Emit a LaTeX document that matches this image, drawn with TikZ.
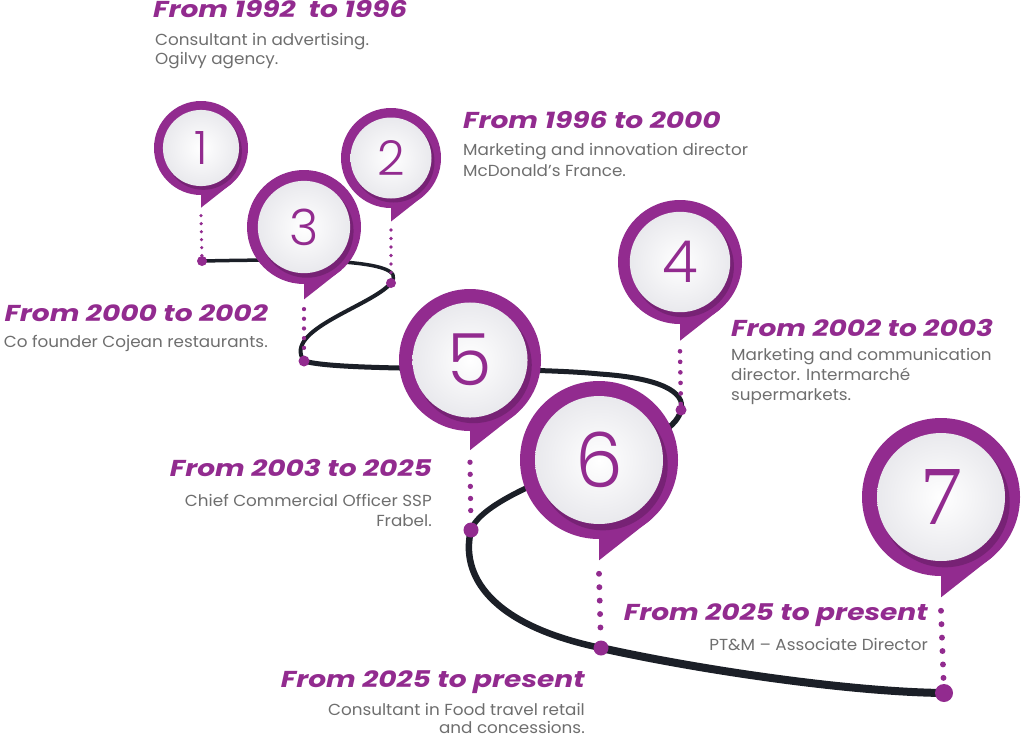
\documentclass[tikz,border=0pt]{standalone}
\usepackage{fontspec}
\setmainfont{Poppins}
\newfontfamily\headfont[FakeStretch=1.22]{Poppins}
\newfontfamily\bodyfont[FakeStretch=1.05]{Poppins}
\newfontfamily\numfont{Poppins Light}
\newfontfamily\sevenfont{Liberation Serif}
\definecolor{pp}{HTML}{922B8F}
\definecolor{ppdark}{HTML}{5E1A5C}
\definecolor{txtgray}{HTML}{6E6E6E}
\definecolor{curvecol}{HTML}{1B1F27}
\definecolor{diskgray}{HTML}{E9E9ED}
\tikzset{
  head/.style={font=\headfont\fontsize{23}{26}\selectfont\bfseries\itshape, text=pp, inner sep=0},
  body/.style={font=\bodyfont\fontsize{16}{18}\selectfont, text=txtgray, inner sep=0},
  enddot/.style={circle, fill=pp, inner sep=0},
  curveline/.style={draw=curvecol, line cap=round},
}
% #1 name, #2 cx, #3 cy, #4 r, #5 label, #6 font
\newcommand{\drawpin}[6]{%
  \fill[pp] ({#2},{#3+0.75*#4}) -- ({#2},{#3+1.27*#4}) -- ({#2+0.66*#4},{#3+0.75*#4}) -- cycle;
  \node[circle, fill=pp, minimum size={2*#4 pt}, inner sep=0] (#1) at (#2,#3) {};
  \fill[ppdark, opacity=0.5] ({#2+0.05*#4},{#3+0.07*#4}) circle [radius={0.82*#4 pt}];
  \shade[inner color=white, outer color=diskgray] (#2,#3) circle [radius={0.81*#4 pt}];
  \node[text=pp, font=#6, inner sep=0] (#1n) at (#2,#3) {#5};
  \coordinate (#1t) at ({#2},{#3+1.44*#4});
  \draw[pp, line width={0.075*#4 pt}, line cap=round, dash pattern={on 0pt off {0.17*#4 pt}}] (#1t) -- (#1d);
}
\begin{document}
\begin{tikzpicture}[x=1pt,y=-1pt]
\useasboundingbox (0,0) rectangle (1024,737);
% end dots positions
\coordinate (d1) at (202,261);
\coordinate (d2) at (391,283);
\coordinate (d3) at (304,361);
\coordinate (d4) at (681,410);
\coordinate (d5) at (471,530);
\coordinate (d6) at (601,648);
\coordinate (d7) at (944,693);
% the winding road
\draw[curveline, line width=3.5pt] (d1) .. controls (300,259) and (412,258) .. (d2);
\draw[curveline, line width=4pt] (d2) .. controls (372,306) and (282,330) .. (d3);
\draw[curveline, line width=5pt] (d3) .. controls (340,372) and (520,366) .. (600,374)
      .. controls (660,378) and (686,392) .. (d4);
\draw[curveline, line width=5.5pt] (d4) .. controls (676,432) and (640,444) .. (600,458)
      .. controls (540,480) and (480,505) .. (d5);
\draw[curveline, line width=6.5pt] (d5) .. controls (460,575) and (490,625) .. (d6);
\draw[curveline, line width=8pt] (d6) .. controls (700,670) and (850,692) .. (d7);
% end dots
\node[enddot, minimum size=10pt] (p1d) at (d1) {};
\node[enddot, minimum size=10pt] (p2d) at (d2) {};
\node[enddot, minimum size=11pt] (p3d) at (d3) {};
\node[enddot, minimum size=11pt] (p4d) at (d4) {};
\node[enddot, minimum size=15pt] (p5d) at (d5) {};
\node[enddot, minimum size=15pt] (p6d) at (d6) {};
\node[enddot, minimum size=18pt] (p7d) at (d7) {};
% pins
\drawpin{p1}{201}{148}{47}{1}{\numfont\fontsize{46}{46}\selectfont}
\drawpin{p2}{391}{158}{50}{2}{\numfont\fontsize{48}{48}\selectfont}
\drawpin{p3}{304}{227}{57}{3}{\numfont\fontsize{50}{50}\selectfont}
\drawpin{p4}{680}{262}{62}{4}{\numfont\fontsize{58}{58}\selectfont}
\drawpin{p5}{470}{360}{71}{5}{\numfont\fontsize{72}{72}\selectfont}
\drawpin{p6}{599}{460}{79}{6}{\numfont\fontsize{76}{76}\selectfont}
\drawpin{p7}{941}{497}{79}{7}{\sevenfont\fontsize{84}{84}\selectfont}
% texts
\node[head, anchor=base west] (h1) at (153,17) {From 1992\ \ to 1996};
\node[body, anchor=base west] (b1a) at (155,45) {Consultant in advertising.};
\node[body, anchor=base west] (b1b) at (155,64) {Ogilvy agency.};

\node[head, anchor=base west] (h2) at (463,128) {From 1996 to 2000};
\node[body, anchor=base west] (b2a) at (463,155) {Marketing and innovation director};
\node[body, anchor=base west] (b2b) at (463,176) {McDonald’s France.};

\node[head, anchor=base east] (h3) at (268,321) {From 2000 to 2002};
\node[body, anchor=base east] (b3a) at (268,347) {Co founder Cojean restaurants.};

\node[head, anchor=base west] (h4) at (731,336) {From 2002 to 2003};
\node[body, anchor=base west] (b4a) at (731,360) {Marketing and communication};
\node[body, anchor=base west] (b4b) at (731,380) {director. Intermarché};
\node[body, anchor=base west] (b4c) at (731,400) {supermarkets.};

\node[head, anchor=base east] (h5) at (432,476) {From 2003 to 2025};
\node[body, anchor=base east] (b5a) at (432,506) {Chief Commercial Officer SSP};
\node[body, anchor=base east] (b5b) at (432,526) {Frabel.};

\node[head, anchor=base east] (h7) at (928,620) {From 2025 to present};
\node[body, anchor=base east] (b7a) at (928,650) {PT\&M – Associate Director};

\node[head, anchor=base east] (h6) at (585,687) {From 2025 to present};
\node[body, anchor=base east] (b6a) at (585,715) {Consultant in Food travel retail};
\node[body, anchor=base east] (b6b) at (585,733) {and concessions.};
\end{tikzpicture}
\end{document}
